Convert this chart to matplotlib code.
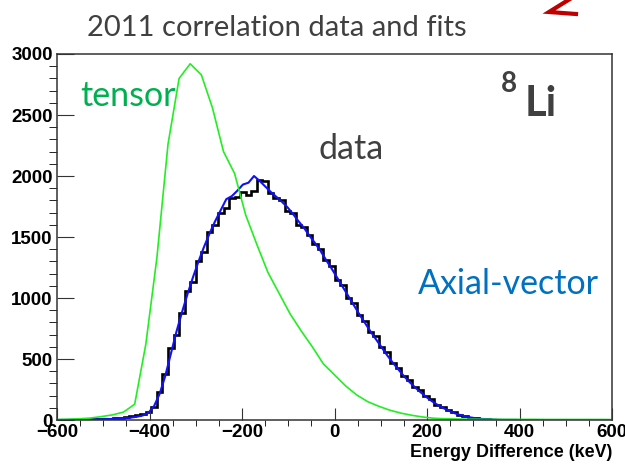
import numpy as np
import matplotlib
matplotlib.use('Agg')
import matplotlib.pyplot as plt
from matplotlib.ticker import MultipleLocator
from matplotlib.lines import Line2D

# histogram of measured energy differences, 12 keV bins from -600 to 600
data_counts = [
    2, 0, 3, 1, 4, 3, 6, 7, 10, 11,
    15, 19, 24, 30, 38, 48, 62, 110, 230, 380,
    590, 700, 880, 1060, 1130, 1300, 1380, 1540, 1600, 1700,
    1740, 1820, 1830, 1870, 1845, 1875, 1965, 1955, 1860, 1820,
    1800, 1710, 1700, 1600, 1580, 1520, 1440, 1400, 1310, 1260,
    1150, 1110, 1000, 960, 860, 810, 720, 690, 600, 555,
    470, 430, 360, 330, 270, 245, 195, 170, 125, 110,
    78, 62, 42, 33, 20, 16, 9, 7, 4, 3,
    2, 1, 2, 1, 1, 0, 1, 0, 1, 0,
    0, 1, 0, 0, 1, 0, 0, 0, 1, 0,
]

# axial-vector fit, same bins
axial_counts = [
    1, 1, 2, 2, 3, 3, 4, 5, 6, 8,
    10, 13, 16, 21, 28, 38, 60, 115, 215, 360,
    540, 720, 880, 1030, 1170, 1300, 1420, 1530, 1630, 1720,
    1810, 1835, 1880, 1930, 1945, 2000, 1960, 1915, 1870, 1830,
    1790, 1745, 1690, 1630, 1575, 1510, 1450, 1385, 1310, 1240,
    1165, 1090, 1015, 940, 865, 795, 725, 660, 595, 530,
    470, 415, 360, 312, 268, 228, 190, 156, 126, 100,
    78, 58, 43, 30, 21, 14, 9, 6, 4, 2,
    1, 1, 1, 0, 0, 0, 0, 0, 0, 0,
    0, 0, 0, 0, 0, 0, 0, 0, 0, 0,
]

# tensor fit, sampled every 24 keV from -600 to 600
tensor_counts = [
    4, 6, 10, 16, 28, 42, 65, 130, 620, 1330,
    2260, 2800, 2920, 2830, 2560, 2200, 2020, 1680, 1440, 1210,
    1040, 870, 730, 600, 460, 370, 280, 205, 150, 112,
    80, 56, 38, 24, 14, 10, 8, 7, 6, 6,
    5, 5, 5, 5, 4, 4, 4, 4, 4, 4, 3,
]

edges = np.linspace(-600, 600, len(data_counts) + 1)
centers = 0.5 * (edges[:-1] + edges[1:])
tensor_e = np.linspace(-600, 600, len(tensor_counts))

W, H = 625, 469
fig = plt.figure(figsize=(W / 100, H / 100), dpi=100)
ax = fig.add_axes([57 / W, 1 - 420 / H, 555 / W, 366 / H])

ax.stairs(data_counts, edges, color='black', lw=1.9)
ax.plot(centers, axial_counts, color='#1010ff', lw=1.5)
ax.plot(tensor_e, tensor_counts, color='#22ee22', lw=1.2)

ax.set_xlim(-600, 600)
ax.set_ylim(0, 3000)
ax.xaxis.set_major_locator(MultipleLocator(200))
ax.xaxis.set_minor_locator(MultipleLocator(50))
ax.yaxis.set_major_locator(MultipleLocator(500))
ax.yaxis.set_minor_locator(MultipleLocator(100))
ax.tick_params(direction='in', top=False, right=False, width=0.8, color='#333333',
               labelsize=13.5, pad=3)
ax.tick_params(axis='y', which='major', length=12)
ax.tick_params(axis='y', which='minor', length=6)
ax.tick_params(axis='x', which='major', length=9)
ax.tick_params(axis='x', which='minor', length=4.5)
for lab in ax.get_xticklabels() + ax.get_yticklabels():
    lab.set_family('Liberation Sans')
    lab.set_weight('bold')
for s in ax.spines.values():
    s.set_linewidth(1.1)
    s.set_color('#333333')

fig.text(612 / W, 1 - 452 / H, 'Energy Difference (keV)', ha='right', va='center',
         family='Liberation Sans', weight='bold', fontsize=12.9)

def px(x, y):
    return x / W, 1 - y / H

fig.text(*px(277, 28), '2011 correlation data and fits', ha='center', va='center',
         family='Lato', fontsize=21, color='#404040')
fig.text(*px(80, 96), 'tensor', ha='left', va='center',
         family='Lato', fontsize=24.5, color='#00b050')
fig.text(*px(318, 149), 'data', ha='left', va='center',
         family='Lato', fontsize=24.5, color='#404040')
fig.text(*px(418, 284), 'Axial-vector', ha='left', va='center',
         family='Lato', fontsize=24.5, color='#0070c0')
fig.text(*px(525, 104), 'Li', ha='left', va='center',
         family='Lato', weight='bold', fontsize=30, color='#404040')
fig.text(*px(517, 84), '8', ha='right', va='center',
         family='Lato', weight='bold', fontsize=20, color='#404040')

# edge of a red arrow coming in from above
arrow = Line2D([578 / W, 549 / W, 576 / W], [1 + 6 / H, 1 - 12 / H, 1 - 14 / H],
               transform=fig.transFigure, color='#c00000', lw=3, solid_joinstyle='miter')
fig.add_artist(arrow)

fig.savefig('out.png', dpi=100)
